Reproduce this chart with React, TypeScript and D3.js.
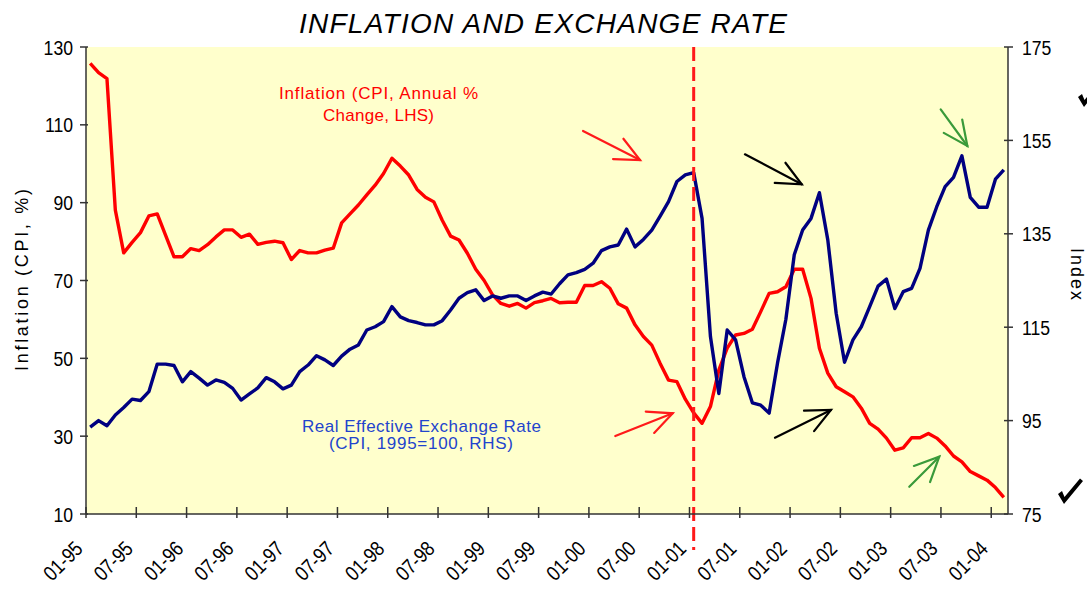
import React from 'react';
import * as d3 from 'd3';

// Monthly data, Jan 1995 - Feb 2004
const inflation: number[] = [
  125.8, 123.4, 121.9, 88.1, 77.1, 79.8, 82.3, 86.6, 87.1, 81.6,
  76.1, 76.1, 78.2, 77.7, 79.2, 81.2, 83.0, 83.0, 81.1, 81.9,
  79.3, 79.8, 80.1, 79.7, 75.4, 77.7, 77.1, 77.1, 77.8, 78.3,
  84.8, 87.1, 89.4, 92.0, 94.5, 97.5, 101.4, 99.4, 97.1, 93.4,
  91.4, 90.2, 85.5, 81.4, 80.4, 77.0, 72.9, 70.0, 66.3, 64.1,
  63.4, 64.1, 62.9, 64.3, 64.8, 65.4, 64.3, 64.4, 64.4, 68.7,
  68.7, 69.7, 68.0, 64.0, 62.9, 58.6, 55.6, 53.4, 48.7, 44.4,
  44.0, 39.5, 36.0, 33.3, 37.6, 47.0, 52.6, 56.0, 56.4, 57.5,
  62.0, 66.7, 67.1, 68.4, 72.9, 72.9, 65.4, 52.6, 46.2, 42.7,
  41.4, 40.1, 37.2, 33.3, 31.8, 29.5, 26.4, 27.0, 29.6, 29.6,
  30.7, 29.5, 27.5, 24.9, 23.4, 20.9, 19.8, 18.7, 16.8, 14.3,
];

const reer: number[] = [
  93.6, 95.0, 93.9, 96.2, 97.8, 99.6, 99.3, 101.2, 107.1, 107.1,
  106.8, 103.3, 105.5, 104.1, 102.6, 103.7, 103.2, 101.9, 99.4, 100.7,
  102.0, 104.2, 103.3, 101.8, 102.6, 105.5, 106.9, 108.9, 108.0, 106.8,
  108.8, 110.3, 111.2, 114.4, 115.1, 116.2, 119.4, 117.2, 116.4, 116.0,
  115.5, 115.5, 116.4, 118.7, 121.2, 122.4, 123.0, 120.7, 121.7, 121.2,
  121.7, 121.7, 120.7, 121.7, 122.5, 122.1, 124.3, 126.2, 126.7, 127.4,
  128.7, 131.4, 132.2, 132.6, 136.0, 132.2, 133.8, 135.8, 138.8, 141.9,
  146.2, 147.6, 148.1, 138.3, 113.0, 100.8, 114.4, 112.3, 104.4, 98.8,
  98.3, 96.6, 107.3, 116.7, 130.5, 135.8, 138.3, 143.8, 133.7, 118.0,
  107.5, 112.3, 115.1, 119.4, 123.8, 125.3, 119.0, 122.6, 123.3, 127.6,
  135.8, 140.8, 145.1, 147.1, 151.7, 142.8, 140.7, 140.7, 146.7, 148.7,
];

const leftTicks: number[] = [10, 30, 50, 70, 90, 110, 130];
const rightTicks: number[] = [75, 95, 115, 135, 155, 175];
const xTickLabels: string[] = [
  '01-95', '07-95', '01-96', '07-96', '01-97', '07-97', '01-98', '07-98', '01-99', '07-99',
  '01-00', '07-00', '01-01', '07-01', '01-02', '07-02', '01-03', '07-03', '01-04',
];
const breakIndex = 72; // Jan 2001

// annotation arrows in data space: [month index, LHS value]
const arrows = [
  { tail: [59.3, 108.41], tip: [66.1, 100.95], color: '#ff1a1a' },
  { tail: [63.15, 30.04], tip: [70.0, 35.88], color: '#ff1a1a' },
  { tail: [78.62, 102.43], tip: [85.39, 94.72], color: '#000000' },
  { tail: [82.2, 29.61], tip: [88.88, 36.72], color: '#000000' },
  { tail: [101.97, 113.99], tip: [105.15, 104.56], color: '#3a9a3a' },
  { tail: [98.22, 17.01], tip: [101.8, 24.72], color: '#3a9a3a' },
];

export default function App() {
  const NUM_FONT = "'Liberation Sans', Arial, sans-serif";
  const TXT_FONT = "'Liberation Sans', Arial, sans-serif";
  const width = 1087;
  const height = 592;
  const left = 86;
  const right = 1008;
  const top = 47;
  const bottom = 514;
  const narrow = 0.84;
  const n = inflation.length;
  const x = d3.scaleLinear().domain([0, n]).range([left, right]);
  const yL = d3.scaleLinear().domain([10, 130]).range([bottom, top]);
  const yR = d3.scaleLinear().domain([75, 175]).range([bottom, top]);

  const lineL = d3.line().x((_: any, i: number) => x(i + 0.5)).y((d: any) => yL(d));
  const lineR = d3.line().x((_: any, i: number) => x(i + 0.5)).y((d: any) => yR(d));

  const headLen = 27;
  const headAng = (25 * Math.PI) / 180;

  const arrowEls = arrows.map((a, k) => {
    const x1 = x(a.tail[0]);
    const y1 = yL(a.tail[1]);
    const x2 = x(a.tip[0]);
    const y2 = yL(a.tip[1]);
    const back = Math.atan2(y1 - y2, x1 - x2);
    const w1x = x2 + headLen * Math.cos(back + headAng);
    const w1y = y2 + headLen * Math.sin(back + headAng);
    const w2x = x2 + headLen * Math.cos(back - headAng);
    const w2y = y2 + headLen * Math.sin(back - headAng);
    return (
      <g key={k} stroke={a.color} strokeWidth={2.2} fill="none" strokeLinecap="round">
        <line x1={x1} y1={y1} x2={x2} y2={y2} />
        <polyline points={`${w1x},${w1y} ${x2},${y2} ${w2x},${w2y}`} />
      </g>
    );
  });

  return (
    <svg width={width} height={height} style={{ position: 'absolute', left: 0, top: 0, display: 'block', background: '#fff' }}>
      <rect x={left} y={top} width={right - left} height={bottom - top} fill="#ffffcc" />

      <text x={543} y={33} textAnchor="middle" fontFamily={TXT_FONT} fontStyle="italic" fontSize={28}
        textLength={488} lengthAdjust="spacing" fill="#000">INFLATION AND EXCHANGE RATE</text>

      <path d={(lineL as any)(inflation) || ''} fill="none" stroke="#ff0000" strokeWidth={3.4} strokeLinejoin="round" />
      <path d={(lineR as any)(reer) || ''} fill="none" stroke="#000080" strokeWidth={3.4} strokeLinejoin="round" />

      <line x1={x(breakIndex + 0.5)} x2={x(breakIndex + 0.5)} y1={top} y2={550} stroke="#ff1a1a" strokeWidth={3}
        strokeDasharray="14 6" />

      <g stroke="#333" strokeWidth={1.5}>
        <line x1={left} x2={left} y1={top} y2={bottom} />
        <line x1={right} x2={right} y1={top} y2={bottom} />
        <line x1={left} x2={right} y1={bottom} y2={bottom} />
        {leftTicks.map((t) => (
          <line key={'lt' + t} x1={left - 6} x2={left + 2} y1={yL(t)} y2={yL(t)} />
        ))}
        {rightTicks.map((t) => (
          <line key={'rt' + t} x1={right - 4} x2={right + 5} y1={yR(t)} y2={yR(t)} />
        ))}
        {xTickLabels.map((_, k) => (
          <line key={'xt' + k} x1={x(k * 6)} x2={x(k * 6)} y1={bottom - 7} y2={bottom + 4} />
        ))}
      </g>

      <g fontFamily={NUM_FONT} fontSize={21} fill="#000">
        {leftTicks.map((t) => (
          <text key={'ll' + t} transform={`translate(${left - 13},${yL(t)}) scale(${narrow},1)`} dy="0.36em" textAnchor="end">{t}</text>
        ))}
        {rightTicks.map((t) => (
          <text key={'rl' + t} transform={`translate(${right + 14},${yR(t)}) scale(${narrow},1)`} dy="0.36em" textAnchor="start">{t}</text>
        ))}
        {xTickLabels.map((lab, k) => (
          <text key={'xl' + k} transform={`translate(${x(k * 6) - 2},550) rotate(-45) scale(${narrow},1)`} textAnchor="end">{lab}</text>
        ))}
      </g>

      <text transform="translate(28,280) rotate(-90)" textAnchor="middle" fontFamily={TXT_FONT} fontSize={18}
        textLength={182} lengthAdjust="spacing">Inflation (CPI, %)</text>
      <text transform="translate(1071,274) rotate(90)" textAnchor="middle" fontFamily={TXT_FONT} fontSize={18}
        textLength={52} lengthAdjust="spacing">Index</text>

      <g fontFamily={TXT_FONT} fontSize={17} fill="#ff0000" textAnchor="middle">
        <text x={378.5} y={99} textLength={199} lengthAdjust="spacing">Inflation (CPI, Annual %</text>
        <text x={378.5} y={121} textLength={111} lengthAdjust="spacing">Change, LHS)</text>
      </g>
      <g fontFamily={TXT_FONT} fontSize={17} fill="#2244cc" textAnchor="middle">
        <text x={421.5} y={431.5} textLength={239} lengthAdjust="spacing">Real Effective Exchange Rate</text>
        <text x={421} y={449} textLength={184} lengthAdjust="spacing">(CPI, 1995=100, RHS)</text>
      </g>

      {arrowEls}

      <path d="M1058,494 L1062,491 L1064.5,497 L1080,478.5 L1083,481 L1064,504 Z" fill="#000" />
      <path d="M1078,97 L1082,94 L1084.5,100 L1100,81.5 L1103,84 L1084,107 Z" fill="#000" />
    </svg>
  );
}
